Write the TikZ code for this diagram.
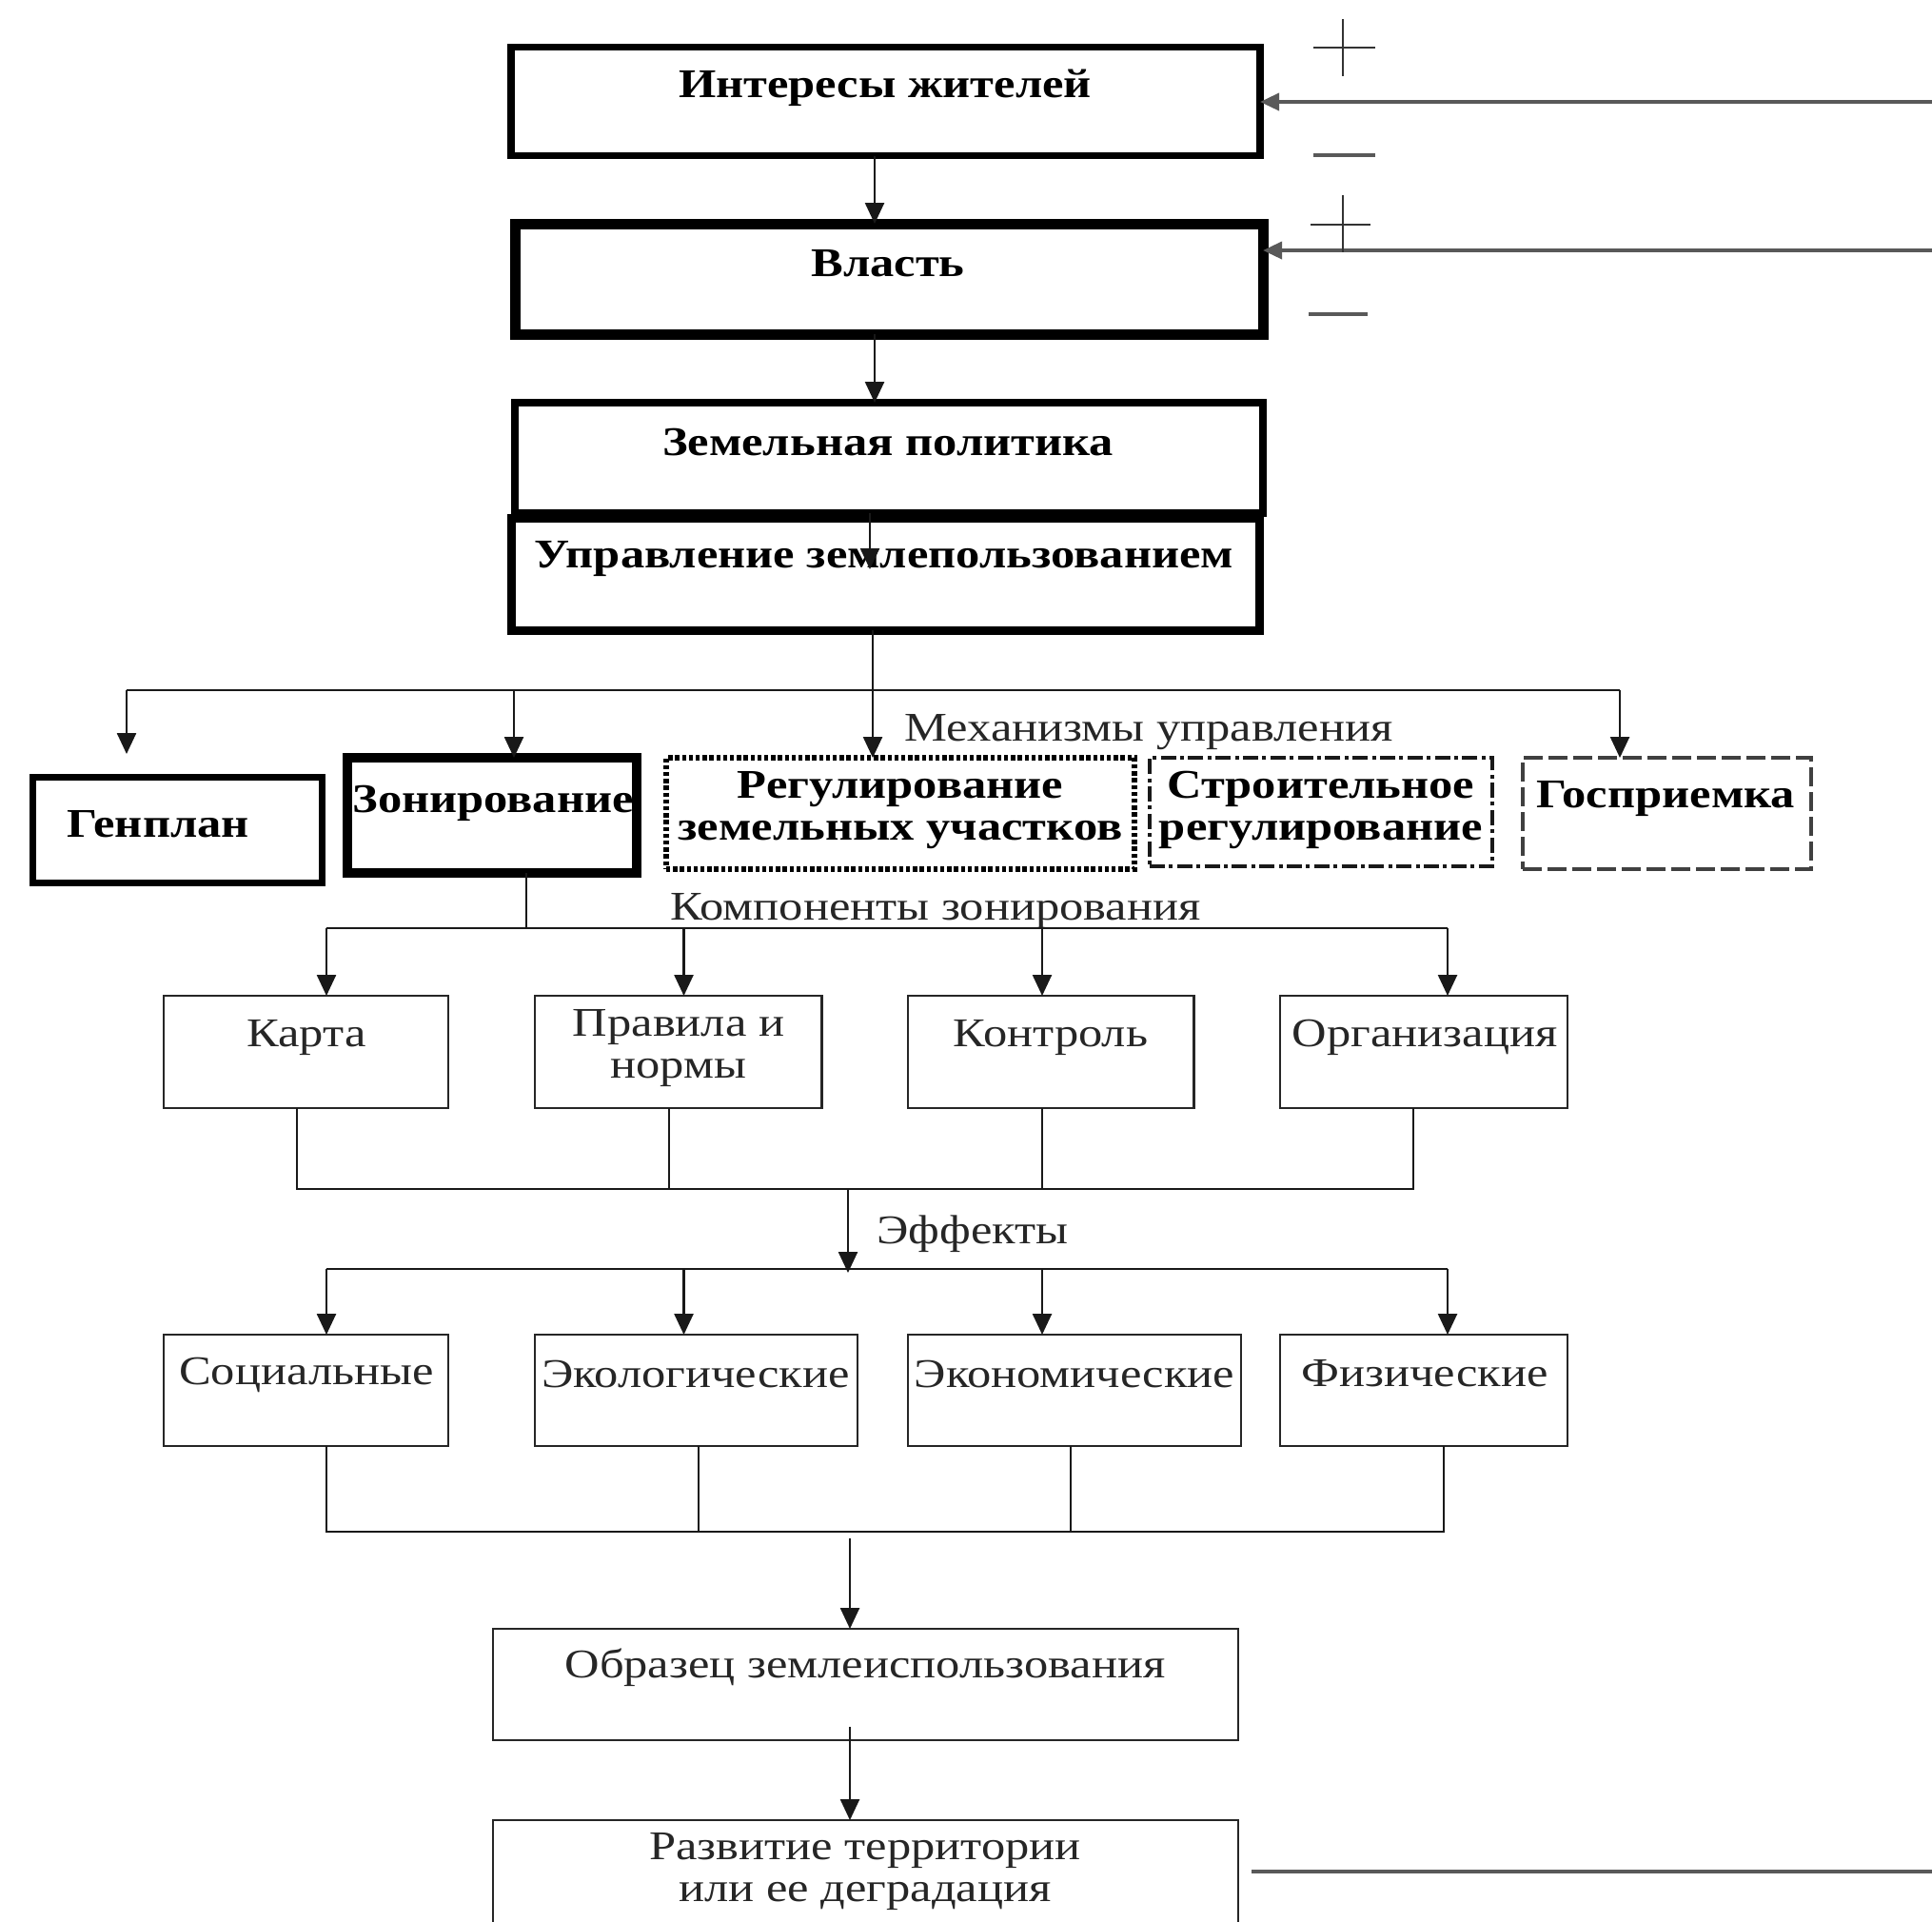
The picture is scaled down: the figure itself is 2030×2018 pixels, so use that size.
\documentclass[tikz,border=0pt]{standalone}
\usepackage{fontspec}
\setmainfont{Liberation Serif}[FakeStretch=1.18]
\usetikzlibrary{arrows.meta}
\begin{document}
\begin{tikzpicture}[x=0.25pt,y=-0.25pt,
  every node/.style={inner sep=0pt,outer sep=0pt},
  txt/.style={font=\fontsize{10.7}{11}\selectfont,text=black!85,align=center},
  btxt/.style={font=\fontsize{10.7}{11}\selectfont\bfseries,text=black,align=center},
  frame/.style={draw=black,line width=#1},
  thinbox/.style={draw=black!85,line width=0.7pt},
  dotbox/.style={draw=black,line width=1.4pt,dash pattern=on 1.1pt off 0.7pt},
  dashdotbox/.style={draw=black!90,line width=1.1pt,dash pattern=on 4pt off 1.1pt on 1pt off 1.1pt},
  dashbox/.style={draw=black!75,line width=0.8pt,dash pattern=on 5pt off 1.5pt},
  conn/.style={draw=black!90,line width=0.6pt},
  arr/.style={conn,-{Triangle[length=5.5pt,width=5pt]}},
  feed/.style={draw=black!65,line width=0.9pt},
  feedarr/.style={feed,-{Triangle[length=5pt,width=4.5pt]}},
  sign/.style={draw=black!80,line width=0.6pt},
  minus/.style={draw=black!65,line width=0.9pt}]
\useasboundingbox (0,0) rectangle (2030,2018);
\fill[white] (0,0) rectangle (2030,2018);

% main chain
\node[frame=1.9pt,minimum width=196.75pt,minimum height=28.5pt] (interests) at (930.5,106.5) {};
\node[btxt] (interests-t) at (930,92) {Интересы жителей};
\node[frame=2.75pt,minimum width=196.5pt,minimum height=29pt] (power) at (934,293) {};
\node[btxt] (power-t) at (933,277) {Власть};
\node[frame=2.1pt,minimum width=196.5pt,minimum height=29pt] (policy) at (934,481) {};
\node[btxt] (policy-t) at (933,465) {Земельная политика};
\node[frame=2.25pt,minimum width=196.5pt,minimum height=29.5pt] (landuse) at (930,603) {};
\node[btxt] (landuse-t) at (929,587) {Управление землепользованием};

% feedback inputs with signs
\coordinate (fb1) at (2030,107);
\coordinate (fb2) at (2030,263);
\draw[feedarr] (fb1) -- (interests.east |- fb1);
\draw[feedarr] (fb2) -- (power.east |- fb2);
\draw[sign] (1380,50) -- (1445,50) (1411,20) -- (1411,80);
\draw[minus] (1380,163) -- (1445,163);
\draw[sign] (1377,236) -- (1440,236) (1411,205) -- (1411,265);
\draw[minus] (1375,330) -- (1437,330);

% mechanisms
\node[frame=1.75pt,minimum width=76pt,minimum height=27.75pt] (genplan) at (186,871.5) {};
\node[btxt] (genplan-t) at (166,866) {Генплан};
\node[frame=2.6pt,minimum width=76pt,minimum height=30.25pt] (zoning) at (517,856.5) {};
\node[btxt] (zoning-t) at (518,844) {Зонирование};
\node[dotbox,minimum width=123pt,minimum height=29.25pt] (plots) at (946,854.5) {};
\node[btxt] (plots-t) at (946,851) {Регулирование\\земельных участков};
\node[dashdotbox,minimum width=90pt,minimum height=28.5pt] (building) at (1388,853) {};
\node[btxt] (building-t) at (1388,851) {Строительное\\регулирование};
\node[dashbox,minimum width=75.75pt,minimum height=29.25pt] (acceptance) at (1751.5,854.5) {};
\node[btxt] (acceptance-t) at (1750,839) {Госприемка};
\node[txt] (mech-l) at (1207,769) {Механизмы управления};

% components
\node[thinbox,minimum width=74.75pt,minimum height=29.5pt] (map) at (321.5,1105) {};
\node[txt] (map-t) at (322,1090) {Карта};
\node[thinbox,minimum width=75.4pt,minimum height=29.5pt] (rules) at (712.75,1105) {};
\node[txt] (rules-t) at (713,1101) {Правила и\\нормы};
\node[thinbox,minimum width=75.1pt,minimum height=29.5pt] (control) at (1104.25,1105) {};
\node[txt] (control-t) at (1104,1090) {Контроль};
\node[thinbox,minimum width=75.5pt,minimum height=29.5pt] (org) at (1496,1105) {};
\node[txt] (org-t) at (1497,1090) {Организация};
\node[txt] (comp-l) at (983,957) {Компоненты зонирования};

% effects
\node[thinbox,minimum width=74.75pt,minimum height=29.25pt] (social) at (321.5,1460.5) {};
\node[txt] (social-t) at (322,1444) {Социальные};
\node[thinbox,minimum width=84.75pt,minimum height=29.25pt] (eco) at (731.5,1460.5) {};
\node[txt] (eco-t) at (731,1443) {Экологические};
\node[thinbox,minimum width=87.5pt,minimum height=29.25pt] (econ) at (1129,1460.5) {};
\node[txt] (econ-t) at (1129,1443) {Экономические};
\node[thinbox,minimum width=75.5pt,minimum height=29.25pt] (phys) at (1496,1460.5) {};
\node[txt] (phys-t) at (1497,1443) {Физические};
\node[txt] (eff-l) at (1022,1296) {Эффекты};

% outcome
\node[thinbox,minimum width=195.75pt,minimum height=29.25pt] (pattern) at (909.5,1769.5) {};
\node[txt] (pattern-t) at (909,1752) {Образец землеиспользования};
\node[thinbox,minimum width=195.75pt,minimum height=37pt] (dev) at (909.5,1986) {};
\node[txt] (dev-t) at (909,1966) {Развитие территории\\или ее деградация};
\coordinate (fbout) at (1315,1966);
\draw[feed] (fbout) -- (2030,1966);

% connectors of the main chain
\draw[arr] (interests.south -| 919,0) -- (power.north -| 919,0);
\draw[arr] (power.south -| 919,0) -- (policy.north -| 919,0);
\coordinate (usetip) at (914,598);
\draw[arr] (policy.south -| 914,0) -- (usetip);

% branch to the mechanisms
\coordinate (mech-hub) at (917,725);
\draw[conn] (landuse.south -| mech-hub) -- (mech-hub);
\draw[conn] (133,725) -- (1702,725);
\coordinate (genplan-tip) at (133,792);
\draw[arr] (133,725) -- (genplan-tip);
\draw[arr] (540,725) -- (zoning.north -| 540,0);
\draw[arr] (mech-hub) -- (plots.north -| mech-hub);
\draw[arr] (1702,725) -- (acceptance.north -| 1702,0);

% branch to the components
\draw[conn] (zoning.south -| 553,0) -- (553,975);
\draw[conn] (343,975) -- (1521,975);
\draw[arr] (343,975) -- (map.north -| 343,0);
\draw[arr] (718.5,975) -- (rules.north -| 718.5,0);
\draw[arr] (1095,975) -- (control.north -| 1095,0);
\draw[arr] (1521,975) -- (org.north -| 1521,0);

% components gathered into effects
\draw[conn] (map.south -| 312,0) -- (312,1249) -- (1485,1249) -- (org.south -| 1485,0);
\draw[conn] (rules.south -| 703,0) -- (703,1249);
\draw[conn] (control.south -| 1095,0) -- (1095,1249);
\draw[arr] (891,1249) -- (891,1337);
\draw[conn] (343,1333) -- (1521,1333);
\draw[arr] (343,1333) -- (social.north -| 343,0);
\draw[arr] (718.5,1333) -- (eco.north -| 718.5,0);
\draw[arr] (1095,1333) -- (econ.north -| 1095,0);
\draw[arr] (1521,1333) -- (phys.north -| 1521,0);

% effects gathered into the outcome
\draw[conn] (social.south -| 343,0) -- (343,1609) -- (1517,1609) -- (phys.south -| 1517,0);
\draw[conn] (eco.south -| 734,0) -- (734,1609);
\draw[conn] (econ.south -| 1125,0) -- (1125,1609);
\draw[arr] (893,1616) -- (pattern.north -| 893,0);
\draw[arr] (893,1814) -- (dev.north -| 893,0);
\end{tikzpicture}
\end{document}
